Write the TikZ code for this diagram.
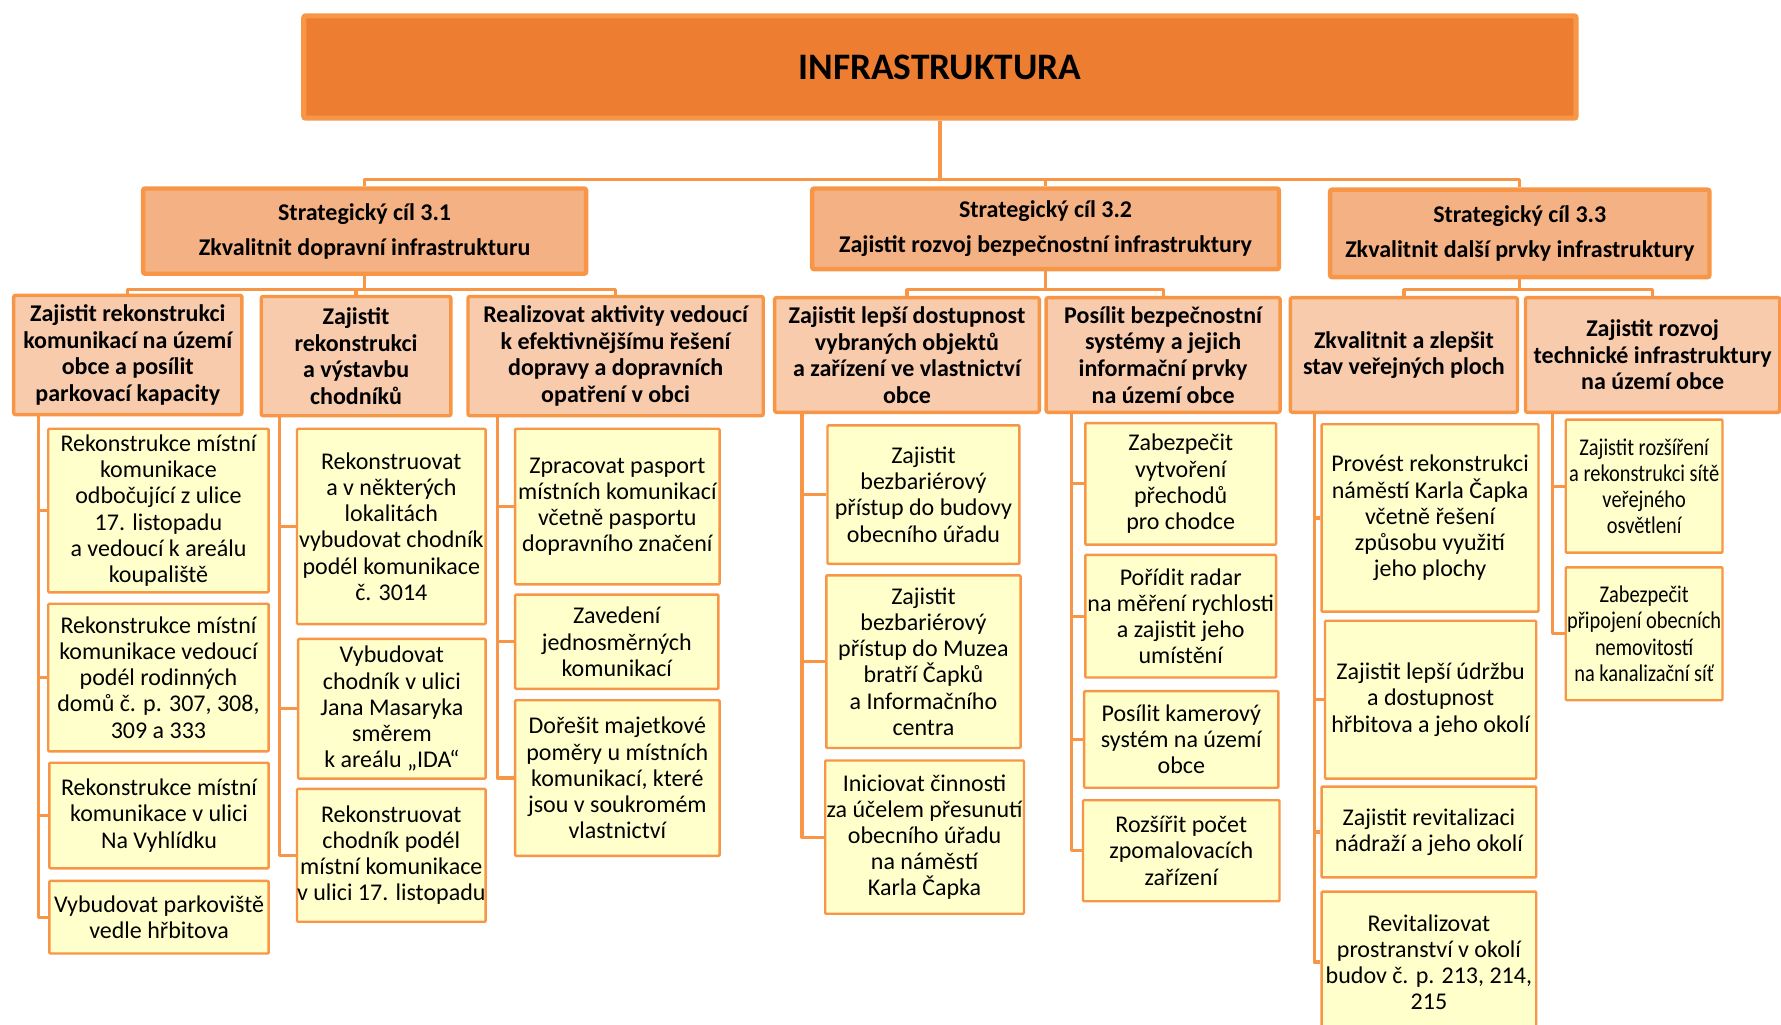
\documentclass[tikz,border=0pt]{standalone}
\usepackage{fontspec}
\setmainfont{Carlito}
\newfontfamily\narrowfont[FakeStretch=0.85]{Carlito}
\usepackage{xcolor}
\usepackage{tikz}
\definecolor{rim}{HTML}{F79646}
\definecolor{topbg}{HTML}{ED7D31}
\definecolor{goalbg}{HTML}{F4B183}
\definecolor{aimbg}{HTML}{F8CBAD}
\definecolor{taskbg}{HTML}{FFFFCC}
\tikzset{
  boxsize/.style 2 args={minimum width=#1*0.5679pt, minimum height=#2*0.5679pt},
  title/.style={draw=rim, fill=topbg, line width=2.6pt, inner sep=0pt,
    rounded corners=1pt, font=\fontsize{18.7}{22}\selectfont\bfseries},
  goal/.style={draw=rim, fill=goalbg, line width=2.2pt, inner sep=0pt,
    rounded corners=1pt, align=center, font=\fontsize{12}{13.3}\selectfont\bfseries},
  aim/.style={draw=rim, fill=aimbg, line width=1.7pt, inner sep=0pt,
    rounded corners=1pt, align=center, font=\fontsize{12}{13.3}\selectfont\bfseries},
  task/.style={draw=rim, fill=taskbg, line width=1.2pt, inner sep=0pt,
    rounded corners=0.5pt, align=center, font=\fontsize{12}{13.1}\selectfont},
  narrow/.style={font=\narrowfont\fontsize{12}{13.1}\selectfont},
  link/.style={draw=rim, line width=1.6pt, line join=round}
}

\begin{document}
\begin{tikzpicture}[x=0.5679pt, y=-0.5679pt]
  \useasboundingbox (0,0) rectangle (1568,902);

  % top and strategic goals
  \node[title, boxsize={1120}{90}] (top) at (827.5,59) {INFRASTRUKTURA};
  \node[goal, boxsize={390}{75}] (s31) at (321,203.5)
    {Strategický cíl 3.1\\[4.3pt]Zkvalitnit dopravní infrastrukturu};
  \node[goal, boxsize={411}{71}] (s32) at (920.5,201.5)
    {Strategický cíl 3.2\\[4.3pt]Zajistit rozvoj bezpečnostní infrastruktury};
  \node[goal, boxsize={334}{77}] (s33) at (1338,205.5)
    {Strategický cíl 3.3\\[4.3pt]Zkvalitnit další prvky infrastruktury};

  % specific aims
  \node[aim, boxsize={201}{105}] (h1) at (112.5,312.5)
    {Zajistit rekonstrukci\\komunikací na území\\obce a posílit\\parkovací kapacity};
  \node[aim, boxsize={167}{105}] (h2) at (313.5,313.5)
    {Zajistit\\rekonstrukci\\a výstavbu\\chodníků};
  \node[aim, boxsize={260}{105}] (h3) at (542,313.5)
    {Realizovat aktivity vedoucí\\k efektivnějšímu řešení\\dopravy a dopravních\\opatření v obci};
  \node[aim, boxsize={233}{101}] (h4) at (798.5,312.5)
    {Zajistit lepší dostupnost\\vybraných objektů\\a zařízení ve vlastnictví\\obce};
  \node[aim, boxsize={206}{101}] (h5) at (1024,312.5)
    {Posílit bezpečnostní\\systémy a jejich\\informační prvky\\na území obce};
  \node[aim, boxsize={200}{101}] (h6) at (1236,312.5)
    {Zkvalitnit a zlepšit\\stav veřejných ploch};
  \node[aim, boxsize={224}{101}] (h7) at (1455,312.5)
    {Zajistit rozvoj\\technické infrastruktury\\na území obce};

  % tasks
  \node[task, boxsize={194}{144}] (l1) at (139.5,449.5)
    {Rekonstrukce místní\\komunikace\\odbočující z ulice\\17. listopadu\\a vedoucí k areálu\\koupaliště};
  \node[task, boxsize={194}{130}] (l2) at (139.5,596.5)
    {Rekonstrukce místní\\komunikace vedoucí\\podél rodinných\\domů č. p. 307, 308,\\309 a 333};
  \node[task, boxsize={193}{93}] (l3) at (140,718)
    {Rekonstrukce místní\\komunikace v ulici\\Na Vyhlídku};
  \node[task, boxsize={193}{64}] (l4) at (140,807.5)
    {Vybudovat parkoviště\\vedle hřbitova};
  \node[task, boxsize={166}{172}] (l5) at (344.5,463.5)
    {Rekonstruovat\\a v některých\\lokalitách\\vybudovat chodník\\podél komunikace\\č. 3014};
  \node[task, boxsize={165}{123}] (l6) at (345,624)
    {Vybudovat\\chodník v ulici\\Jana Masaryka\\směrem\\k areálu „IDA“};
  \node[task, boxsize={166}{117}] (l7) at (344.5,753)
    {Rekonstruovat\\chodník podél\\místní komunikace\\v ulici 17. listopadu};
  \node[task, boxsize={180}{137}] (l8) at (543.5,446)
    {Zpracovat pasport\\místních komunikací\\včetně pasportu\\dopravního značení};
  \node[task, boxsize={179}{83}] (l9) at (543,565)
    {Zavedení\\jednosměrných\\komunikací};
  \node[task, boxsize={180}{137}] (l10) at (543.5,685)
    {Dořešit majetkové\\poměry u místních\\komunikací, které\\jsou v soukromém\\vlastnictví};
  \node[task, boxsize={169}{122}] (l11) at (813,435.5)
    {Zajistit\\bezbariérový\\přístup do budovy\\obecního úřadu};
  \node[task, boxsize={171}{152}] (l12) at (813,582.5)
    {Zajistit\\bezbariérový\\přístup do Muzea\\bratří Čapků\\a Informačního\\centra};
  \node[task, boxsize={175}{135}] (l13) at (814,737)
    {Iniciovat činnosti\\za účelem přesunutí\\obecního úřadu\\na náměstí\\Karla Čapka};
  \node[task, boxsize={168}{107}] (l14) at (1039.5,426)
    {Zabezpečit\\vytvoření\\přechodů\\pro chodce};
  \node[task, boxsize={168}{108}] (l15) at (1039.5,542.5)
    {Pořídit radar\\na měření rychlosti\\a zajistit jeho\\umístění};
  \node[task, boxsize={171}{85}] (l16) at (1040,651)
    {Posílit kamerový\\systém na území\\obce};
  \node[task, boxsize={173}{89}] (l17) at (1040,749)
    {Rozšířit počet\\zpomalovacích\\zařízení};
  \node[task, boxsize={191}{165}] (l18) at (1259,456)
    {Provést rekonstrukci\\náměstí Karla Čapka\\včetně řešení\\způsobu využití\\jeho plochy};
  \node[task, boxsize={186}{139}] (l19) at (1259.5,616)
    {Zajistit lepší údržbu\\a dostupnost\\hřbitova a jeho okolí};
  \node[task, boxsize={189}{80}] (l20) at (1258,732.5)
    {Zajistit revitalizaci\\nádraží a jeho okolí};
  \node[task, boxsize={189}{124}] (l21) at (1258,847)
    {Revitalizovat\\prostranství v okolí\\budov č. p. 213, 214,\\215};
  \node[task, narrow, boxsize={138}{117}] (l22) at (1447.5,428)
    {Zajistit rozšíření\\a rekonstrukci sítě\\veřejného\\osvětlení};
  \node[task, narrow, boxsize={138}{117}] (l23) at (1447.5,558)
    {Zabezpečit\\připojení obecních\\nemovitostí\\na kanalizační síť};

  % connectors
  \coordinate (b0) at (827.5,158);
  \draw[link] (top.south) -- (b0);
  \foreach \g in {s31,s32,s33}
    \draw[link] (b0) -| (\g.north);

  \coordinate (b31) at (321,255);
  \coordinate (b32) at (920.5,255);
  \coordinate (b33) at (1338,255);
  \draw[link] (s31.south) -- (b31);
  \draw[link] (s32.south) -- (b32);
  \draw[link] (s33.south) -- (b33);
  \foreach \h in {h1,h2,h3}
    \draw[link] (b31) -| (\h.north);
  \foreach \h in {h4,h5}
    \draw[link] (b32) -| (\h.north);
  \foreach \h in {h6,h7}
    \draw[link] (b33) -| (\h.north);

  \coordinate (c1) at (34,366);
  \coordinate (c2) at (246,367);
  \coordinate (c3) at (438,367);
  \coordinate (c4) at (706,364);
  \coordinate (c5) at (943,364);
  \coordinate (c6) at (1157,364);
  \coordinate (c7) at (1367,364);
  \foreach \c/\l in {c1/l1,c1/l2,c1/l3,c1/l4,c2/l5,c2/l6,c2/l7,c3/l8,c3/l9,c3/l10,
                     c4/l11,c4/l12,c4/l13,c5/l14,c5/l15,c5/l16,c5/l17,
                     c6/l18,c6/l19,c6/l20,c6/l21,c7/l22,c7/l23}
    \draw[link] (\c) |- (\l.west);
\end{tikzpicture}
\end{document}
